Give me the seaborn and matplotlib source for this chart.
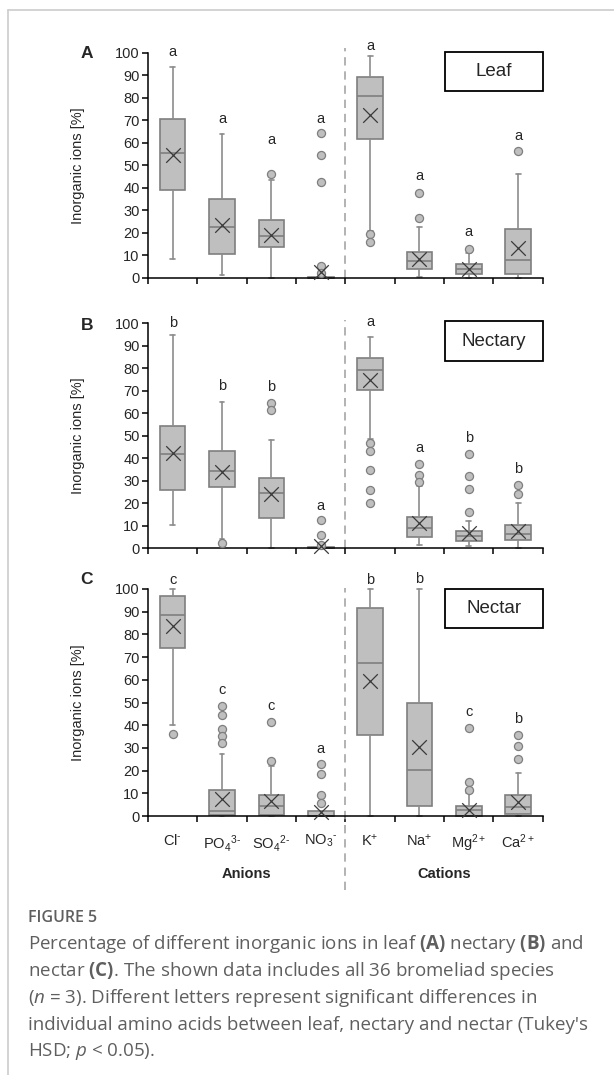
import numpy as np
import pandas as pd
import seaborn as sns
import matplotlib.pyplot as plt
from matplotlib.lines import Line2D
from matplotlib.patches import Rectangle

sns.set_style('ticks')
plt.rcParams['font.family'] = ['Liberation Sans', 'DejaVu Sans']
plt.rcParams['mathtext.default'] = 'regular'
plt.rcParams['mathtext.fontset'] = 'custom'
plt.rcParams['mathtext.rm'] = 'Liberation Sans'
plt.rcParams['mathtext.it'] = 'Open Sans:italic'
plt.rcParams['mathtext.bf'] = 'Open Sans:bold'

ions = [r'Cl$^{\text{-}}$', r'PO$_4$$^{\text{3-}}$', r'SO$_4$$^{\text{2-}}$', r'NO$_3$$^{\text{-}}$',
        'K$^{+}$', 'Na$^{+}$', 'Mg$^{2+}$', 'Ca$^{2+}$']
tissues = ['Leaf', 'Nectary', 'Nectar']
panel_tags = ['A', 'B', 'C']

# box statistics (% of inorganic ions)
leaf_low = [8.4, 1.3, 0.0, 0.0, 21.0, 0.3, 0.0, 0.0]
leaf_q1 = [39.3, 10.7, 13.8, 0.0, 61.6, 3.9, 1.9, 1.9]
leaf_med = [55.6, 22.5, 18.5, 0.2, 81.0, 7.6, 4.1, 8.0]
leaf_q3 = [70.7, 35.1, 25.6, 0.6, 89.2, 11.4, 6.2, 21.9]
leaf_high = [93.6, 64.0, 43.4, 0.6, 98.7, 22.5, 11.3, 46.1]
leaf_mean = [54.8, 23.7, 19.3, 2.6, 72.4, 8.6, 4.1, 13.2]
leaf_out = [[], [], [46.4], [64.4, 54.8, 42.8, 5.3, 2.0], [19.6, 15.9],
            [37.9, 26.5], [13.0], [56.4]]
leaf_sig = ['a', 'a', 'a', 'a', 'a', 'a', 'a', 'a']
leaf_sig_y = [100.6, 70.7, 61.5, 70.7, 103.0, 45.3, 20.3, 63.3]

nectary_low = [10.2, 4.0, 0.0, 0.0, 48.4, 1.3, 0.7, 0.0]
nectary_q1 = [25.8, 27.1, 13.3, 0.0, 70.2, 4.7, 3.1, 3.5]
nectary_med = [41.8, 34.2, 24.4, 0.2, 79.0, 8.8, 5.5, 6.2]
nectary_q3 = [54.4, 43.0, 31.0, 0.5, 84.6, 13.9, 7.4, 10.3]
nectary_high = [94.8, 65.0, 47.9, 0.5, 93.9, 27.6, 11.8, 19.8]
nectary_mean = [42.2, 34.0, 24.0, 1.0, 74.7, 11.1, 6.6, 7.7]
nectary_out = [[], [2.1], [64.4, 61.2], [12.4, 5.8, 1.4],
               [46.6, 43.3, 34.7, 25.8, 19.8], [37.3, 32.4, 29.4],
               [41.6, 31.9, 26.3, 16.2], [28.2, 24.0]]
nectary_sig = ['b', 'b', 'b', 'a', 'a', 'a', 'b', 'b']
nectary_sig_y = [100.0, 72.1, 71.5, 18.9, 100.3, 44.5, 48.9, 35.1]

nectar_low = [39.9, 0.0, 0.0, 0.0, 0.0, 0.0, 0.0, 0.0]
nectar_q1 = [73.9, 0.3, 0.6, 0.0, 35.5, 4.6, 0.0, 0.7]
nectar_med = [88.4, 2.4, 4.4, 0.1, 67.3, 20.3, 2.5, 4.0]
nectar_q3 = [97.1, 11.6, 9.4, 2.4, 91.5, 49.8, 4.6, 9.4]
nectar_high = [100.0, 27.2, 22.2, 2.4, 100.0, 100.0, 10.0, 19.0]
nectar_mean = [83.7, 7.7, 6.5, 1.8, 59.6, 30.5, 2.5, 6.2]
nectar_out = [[36.1], [48.6, 44.3, 38.4, 35.3, 32.0], [41.4, 24.2],
              [22.7, 18.6, 9.4, 5.9], [], [], [38.7, 15.0, 11.6],
              [35.5, 30.8, 25.0]]
nectar_sig = ['c', 'c', 'c', 'a', 'b', 'b', 'c', 'b']
nectar_sig_y = [104.1, 55.4, 48.5, 29.7, 104.1, 104.4, 45.7, 42.6]

panels = [
    (leaf_low, leaf_q1, leaf_med, leaf_q3, leaf_high, leaf_mean, leaf_out, leaf_sig, leaf_sig_y),
    (nectary_low, nectary_q1, nectary_med, nectary_q3, nectary_high, nectary_mean, nectary_out, nectary_sig, nectary_sig_y),
    (nectar_low, nectar_q1, nectar_med, nectar_q3, nectar_high, nectar_mean, nectar_out, nectar_sig, nectar_sig_y),
]

box_fill = '#BFBFBF'
box_edge = '#7F7F7F'
whisk = '#8C8C8C'
fs = 10.5

fig = plt.figure(figsize=(6.14, 10.75), dpi=100)
axes_rects = [(0.241, 0.7414, 0.643, 0.2093),
              (0.241, 0.4902, 0.643, 0.2093),
              (0.241, 0.2409, 0.643, 0.2112)]
legend_top = [1.004, 1.009, 1.0]
tag_y = [0.996, 0.991, 1.04]
dash_top = [1.022, 1.013, 1.004]

pos = np.arange(len(ions))
for k, (rect, data) in enumerate(zip(axes_rects, panels)):
    low, q1, med, q3, high, mean, out, sig, sig_y = data
    ax = fig.add_axes(rect)
    stats = [dict(whislo=low[i], q1=q1[i], med=med[i], q3=q3[i], whishi=high[i],
                  fliers=[], label=ions[i]) for i in range(len(ions))]
    arts = ax.bxp(stats, positions=pos, widths=0.52, capwidths=0.1,
                  patch_artist=True, showfliers=False, manage_ticks=False,
                  boxprops=dict(facecolor=box_fill, edgecolor=box_edge, linewidth=1.2),
                  medianprops=dict(color=box_edge, linewidth=1.2),
                  whiskerprops=dict(color=whisk, linewidth=1.2),
                  capprops=dict(color=whisk, linewidth=1.2))
    for group in arts.values():
        for a in group:
            a.set_clip_on(False)

    fl = pd.DataFrame([(i, v) for i in range(len(ions)) for v in out[i]],
                      columns=['pos', 'value'])
    sns.scatterplot(data=fl, x='pos', y='value', ax=ax, color=box_fill,
                    edgecolor=box_edge, linewidth=0.9, s=34, zorder=4,
                    legend=False, clip_on=False)
    sns.scatterplot(x=pos, y=mean, ax=ax, marker='x', color='#3A3A3A',
                    s=110, linewidth=0.9, zorder=5, legend=False, clip_on=False)

    for i in range(len(ions)):
        ax.text(pos[i], sig_y[i], sig[i], ha='center', va='center', fontsize=fs)

    ax.set_xlim(-0.5, 7.5)
    ax.set_ylim(0, 100)
    ax.set_yticks(np.arange(0, 101, 10))
    ax.set_xticks(np.arange(-0.5, 8, 1))
    ax.set_xticklabels([])
    ax.set_xticks(pos, minor=True)
    ax.tick_params(axis='both', which='major', labelsize=fs, length=4,
                   width=1.1, color='black', direction='out', pad=2)
    ax.tick_params(axis='x', which='minor', length=0, pad=12, labelsize=fs)
    if k == 2:
        ax.set_xticklabels(ions, minor=True)
    ax.set_xlabel('')
    ax.set_ylabel('Inorganic ions [%]', fontsize=fs)
    ax.yaxis.set_label_coords(-0.16, 0.5)
    sns.despine(ax=ax)
    for s in ['left', 'bottom']:
        ax.spines[s].set_linewidth(1.1)
        ax.spines[s].set_color('black')
    ax.grid(False)

    ymin = -0.326 if k == 2 else 0
    ax.axvline(3.5, ymin=ymin, ymax=dash_top[k], color='#A6A6A6', lw=1.2,
               linestyle=(0, (5, 3.5)), clip_on=False, zorder=1)

    ax.add_patch(Rectangle((0.752, 0.83), 0.248, legend_top[k] - 0.83,
                           transform=ax.transAxes, facecolor='white',
                           edgecolor='black', lw=1.3, clip_on=False, zorder=6))
    ax.text(0.876, (0.83 + legend_top[k]) / 2, tissues[k], transform=ax.transAxes,
            ha='center', va='center', fontsize=13.5, zorder=7)
    ax.text(-0.155, tag_y[k], panel_tags[k], transform=ax.transAxes,
            ha='center', va='center', fontsize=12.5, fontweight='bold')

    if k == 2:
        ax.text(1.5, -0.255, 'Anions', transform=ax.get_xaxis_transform(),
                ha='center', va='center', fontsize=fs, fontweight='bold')
        ax.text(5.5, -0.255, 'Cations', transform=ax.get_xaxis_transform(),
                ha='center', va='center', fontsize=fs, fontweight='bold')

# outer frame
fig.add_artist(Line2D([8 / 614, 1.0], [1 - 10 / 1075] * 2, color='#CCCCCC', lw=1.2))
fig.add_artist(Line2D([8 / 614] * 2, [0, 1 - 10 / 1075], color='#CCCCCC', lw=1.2))

cap_color = '#5F5F5F'
fig.text(28 / 614, 1 - 918 / 1075, 'FIGURE 5', fontsize=11.5, color=cap_color,
         family='Open Sans', fontweight='semibold', va='center')
caption = [
    r'Percentage of different inorganic ions in leaf $\mathbf{(A)}$ nectary $\mathbf{(B)}$ and',
    r'nectar $\mathbf{(C)}$. The shown data includes all 36 bromeliad species',
    r'($\mathit{n}$ = 3). Different letters represent significant differences in',
    r"individual amino acids between leaf, nectary and nectar (Tukey's",
    r'HSD; $\mathit{p}$ < 0.05).',
]
for j, line in enumerate(caption):
    fig.text(28 / 614, 1 - (944 + 27 * j) / 1075, line, fontsize=13.5,
             color=cap_color, family='Open Sans', va='center')

fig.savefig('out.png', dpi=100)
